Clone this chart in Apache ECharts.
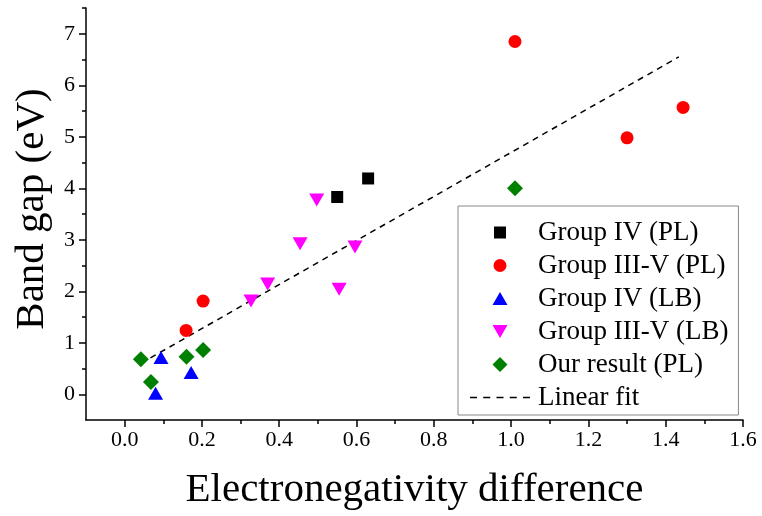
<!DOCTYPE html>
<html>
<head>
<meta charset="utf-8">
<script src="https://cdn.jsdelivr.net/npm/echarts@6/dist/echarts.min.js"></script>
<style>
  html, body { margin: 0; padding: 0; background: #fff; }
  #chart { width: 762px; height: 516px; }
</style>
</head>
<body>
<div id="chart"></div>
<script>
// Band gap vs. electronegativity difference, [x, y] pairs per group
const groupIVPL = [[0.55, 3.83], [0.63, 4.19]];
const groupIIIVPL = [[1.01, 6.85], [1.445, 5.57], [1.30, 4.98], [0.203, 1.81], [0.159, 1.24]];
const groupIVLB = [[0.094, 0.715], [0.08, 0.02], [0.172, 0.42]];
const groupIIIVLB = [[0.497, 3.77], [0.454, 2.92], [0.596, 2.86], [0.555, 2.04], [0.37, 2.14], [0.327, 1.81]];
const ourResultPL = [[0.042, 0.68], [0.068, 0.24], [0.16, 0.73], [0.203, 0.86], [1.01, 4.0]];
const linearFit = [[0.042, 0.60], [1.434, 6.55]];

// Axis ranges and tick positions
const xRange = [-0.1, 1.6];
const yRange = [-0.5, 7.5];
const xMajorTicks = [0, 0.2, 0.4, 0.6, 0.8, 1.0, 1.2, 1.4, 1.6];
const xMinorTicks = [0.1, 0.3, 0.5, 0.7, 0.9, 1.1, 1.3, 1.5];
const yMajorTicks = [0, 1, 2, 3, 4, 5, 6, 7];
const yMinorTicks = [0.5, 1.5, 2.5, 3.5, 4.5, 5.5, 6.5, 7.5];

const FONT = '"Liberation Serif", "Times New Roman", serif';
const axisColor = '#000';

// Legend glyphs drawn as paths inside a common 16x16 frame (the two tiny
// corner squares pin the frame) so every glyph keeps its own size.
const FRAME = ' M0,0h0.01v0.01h-0.01z M16,16h-0.01v-0.01h0.01z';
const ICON_SQUARE = 'path://M2,2h12v12h-12z' + FRAME;
const ICON_CIRCLE = 'path://M1.5,8A6.5,6.5,0,1,1,14.5,8A6.5,6.5,0,1,1,1.5,8Z' + FRAME;
const ICON_TRI_UP = 'path://M0.5,14.5L8,1.5L15.5,14.5Z' + FRAME;
const ICON_TRI_DOWN = 'path://M0.5,1.5L15.5,1.5L8,14.5Z' + FRAME;
const ICON_DIAMOND = 'path://M8,0.5L15.5,8L8,15.5L0.5,8Z' + FRAME;
const ICON_DASH = 'path://M0,0h7v1.5h-7z M13.25,0h7v1.5h-7z M26.5,0h7v1.5h-7z M39.75,0h7v1.5h-7z M53,0h7v1.5h-7z';

function majorAxis(range, ticks, extra) {
  return Object.assign({
    type: 'value',
    min: range[0],
    max: range[1],
    axisLine: { show: true, onZero: false, lineStyle: { color: axisColor, width: 1.5 } },
    axisTick: { show: true, length: 7, customValues: ticks, lineStyle: { color: axisColor, width: 1.5 } },
    splitLine: { show: false }
  }, extra);
}

function minorAxis(range, ticks, position) {
  return {
    type: 'value',
    position: position,
    min: range[0],
    max: range[1],
    axisLine: { show: false, onZero: false },
    axisTick: { show: true, length: 4, customValues: ticks, lineStyle: { color: axisColor, width: 1.5 } },
    axisLabel: { show: false },
    splitLine: { show: false }
  };
}

const chart = echarts.init(document.getElementById('chart'), null, { renderer: 'canvas' });

chart.setOption({
  animation: false,
  backgroundColor: '#fff',
  grid: { left: 86, right: 19, top: 8, bottom: 95, containLabel: false },
  xAxis: [
    majorAxis(xRange, xMajorTicks, {
      position: 'bottom',
      name: 'Electronegativity difference',
      nameLocation: 'middle',
      nameGap: 50,
      nameTextStyle: { color: '#000', fontFamily: FONT, fontSize: 41 },
      axisLabel: {
        customValues: xMajorTicks, margin: 9,
        color: '#000', fontFamily: FONT, fontSize: 22,
        formatter: v => v.toFixed(1)
      }
    }),
    minorAxis(xRange, xMinorTicks, 'bottom')
  ],
  yAxis: [
    majorAxis(yRange, yMajorTicks, {
      position: 'left',
      name: 'Band gap (eV)',
      nameLocation: 'middle',
      nameGap: 31,
      nameTextStyle: { color: '#000', fontFamily: FONT, fontSize: 41, padding: [0, 0, 0, 10] },
      axisLabel: {
        customValues: yMajorTicks, margin: 11,
        color: '#000', fontFamily: FONT, fontSize: 22,
        formatter: v => String(Math.round(v))
      }
    }),
    minorAxis(yRange, yMinorTicks, 'left')
  ],
  legend: {
    orient: 'vertical',
    left: 458,
    top: 206,
    padding: [13, 10, 4, 12],
    itemGap: 6,
    itemWidth: 60,
    itemHeight: 16,
    symbolRotate: 0,
    borderColor: '#888',
    borderWidth: 1,
    textStyle: { color: '#000', fontFamily: FONT, fontSize: 27, padding: [0, 0, 0, 3] },
    data: [
      { name: 'Group IV (PL)', icon: ICON_SQUARE },
      { name: 'Group III-V (PL)', icon: ICON_CIRCLE },
      { name: 'Group IV (LB)', icon: ICON_TRI_UP },
      { name: 'Group III-V (LB)', icon: ICON_TRI_DOWN },
      { name: 'Our result (PL)', icon: ICON_DIAMOND },
      { name: 'Linear fit', icon: ICON_DASH }
    ]
  },
  series: [
    {
      name: 'Linear fit', type: 'line', data: linearFit,
      showSymbol: false, symbol: 'none', z: 1,
      lineStyle: { color: '#000', width: 1.5, type: [6, 5] },
      itemStyle: { color: '#000' }
    },
    {
      name: 'Group IV (PL)', type: 'scatter', data: groupIVPL,
      symbol: 'rect', symbolSize: 12, z: 3,
      itemStyle: { color: '#000', opacity: 1 }
    },
    {
      name: 'Group III-V (PL)', type: 'scatter', data: groupIIIVPL,
      symbol: 'circle', symbolSize: 13, z: 3,
      itemStyle: { color: '#ff0000', opacity: 1 }
    },
    {
      name: 'Group IV (LB)', type: 'scatter', data: groupIVLB,
      symbol: 'triangle', symbolSize: [15, 13], z: 3,
      itemStyle: { color: '#0000ff', opacity: 1 }
    },
    {
      name: 'Group III-V (LB)', type: 'scatter', data: groupIIIVLB,
      symbol: 'triangle', symbolSize: [15, 13], symbolRotate: 180, z: 3,
      itemStyle: { color: '#ff00ff', opacity: 1 }
    },
    {
      name: 'Our result (PL)', type: 'scatter', data: ourResultPL,
      symbol: 'diamond', symbolSize: 16, z: 3,
      itemStyle: { color: '#008000', opacity: 1 }
    }
  ]
});
</script>
</body>
</html>
